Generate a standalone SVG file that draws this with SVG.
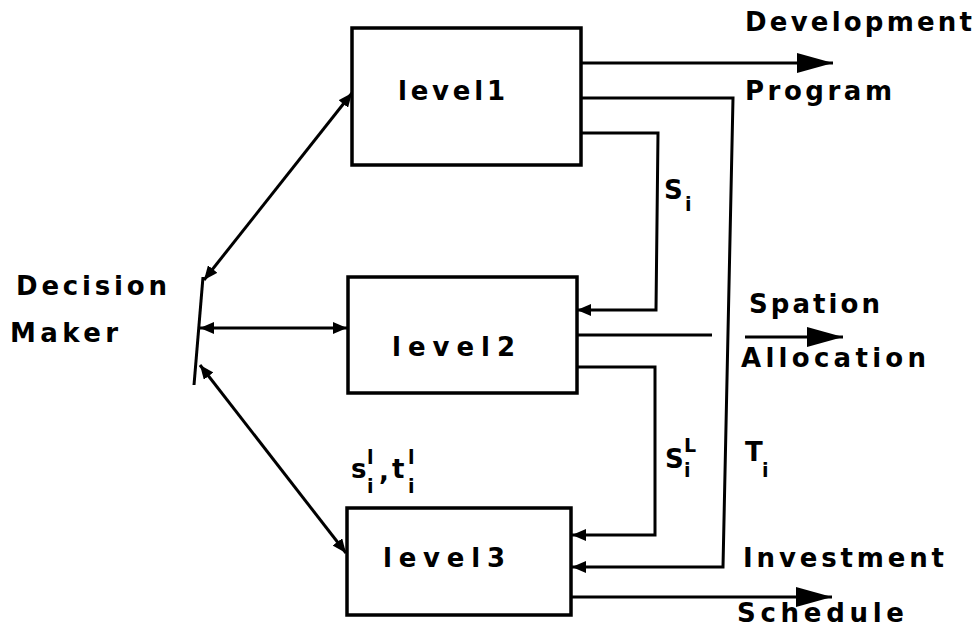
<svg xmlns="http://www.w3.org/2000/svg" width="978" height="634" viewBox="0 0 978 634">
<style>
  text { font-family: "DejaVu Sans", "Liberation Sans", Arial, sans-serif; font-weight: bold; fill: #000; }
  .lbl { font-size: 26px; }
  .sm { font-size: 19px; }
  .box { fill: #fff; stroke: #000; stroke-width: 3.5; }
  .ln { fill: none; stroke: #000; stroke-width: 3; stroke-linejoin: miter; }
</style>
<defs>
  <marker id="ah" markerUnits="userSpaceOnUse" markerWidth="14" markerHeight="12" refX="14" refY="6" orient="auto-start-reverse" viewBox="0 0 14 12">
    <path d="M0,0 L14,6 L0,12 z" fill="#000"/>
  </marker>
  <marker id="big" markerUnits="userSpaceOnUse" markerWidth="36" markerHeight="20" refX="36" refY="10" orient="auto" viewBox="0 0 36 20">
    <path d="M0,0 L36,10 L0,20 z" fill="#000"/>
  </marker>
</defs>
<rect width="978" height="634" fill="#fff"/>

<g id="connectors">
  <path class="ln" d="M203,277 L194,385" stroke-width="3.5"/>
  <path class="ln" d="M204,280 L352,93" marker-start="url(#ah)" marker-end="url(#ah)"/>
  <path class="ln" d="M200,328 H347" marker-start="url(#ah)" marker-end="url(#ah)"/>
  <path class="ln" d="M200,365 L346,553" marker-start="url(#ah)" marker-end="url(#ah)"/>
  <path class="ln" d="M581,63 H833" marker-end="url(#big)"/>
  <path class="ln" d="M581,98 H733 L723,567 H572" marker-end="url(#ah)"/>
  <path class="ln" d="M581,133 H658 L656,310 H577" marker-end="url(#ah)"/>
  <path class="ln" d="M577,335 H712"/>
  <path class="ln" d="M745,337 H843" marker-end="url(#big)"/>
  <path class="ln" d="M577,367 H655 V535 H572" marker-end="url(#ah)"/>
  <path class="ln" d="M572,597 H832" marker-end="url(#big)"/>
</g>

<g id="level1">
  <rect class="box" x="352" y="28" width="229" height="137"/>
  <text class="lbl" x="398" y="100" textLength="107" lengthAdjust="spacing">level1</text>
</g>
<g id="level2">
  <rect class="box" x="348" y="277" width="229" height="116"/>
  <text class="lbl" x="392" y="356" textLength="123" lengthAdjust="spacing">level2</text>
</g>
<g id="level3">
  <rect class="box" x="347" y="508" width="224" height="107"/>
  <text class="lbl" x="383" y="567" textLength="122" lengthAdjust="spacing">level3</text>
</g>
<g id="decision-maker">
  <text class="lbl" x="16" y="295" textLength="151" lengthAdjust="spacing">Decision</text>
  <text class="lbl" x="10" y="342" textLength="108" lengthAdjust="spacing">Maker</text>
</g>

<g id="labels">
  <text class="lbl" x="745" y="31" textLength="227" lengthAdjust="spacing">Development</text>
  <text class="lbl" x="745" y="100" textLength="147" lengthAdjust="spacing">Program</text>
  <text class="lbl" x="749" y="313" textLength="131" lengthAdjust="spacing">Spation</text>
  <text class="lbl" x="741" y="367" textLength="185" lengthAdjust="spacing">Allocation</text>
  <text class="lbl" x="743" y="567" textLength="201" lengthAdjust="spacing">Investment</text>
  <text class="lbl" x="737" y="622" textLength="167" lengthAdjust="spacing">Schedule</text>

  <text class="lbl" x="664" y="199" font-size="24">S<tspan class="sm" x="685" y="211">i</tspan></text>
  <text class="lbl" x="665" y="468" font-size="22">S<tspan class="sm" x="684" y="452">L</tspan><tspan class="sm" x="684" y="477">i</tspan></text>
  <text class="lbl" x="745" y="461" font-size="20">T<tspan class="sm" x="762" y="477">i</tspan></text>
  <text class="lbl" x="351" y="478" font-size="22">s<tspan class="sm" x="367" y="464">l</tspan><tspan class="sm" x="367" y="493">i</tspan><tspan x="379" y="480">,</tspan><tspan x="392" y="478">t</tspan><tspan class="sm" x="408" y="464">l</tspan><tspan class="sm" x="408" y="493">i</tspan></text>
</g>
</svg>
